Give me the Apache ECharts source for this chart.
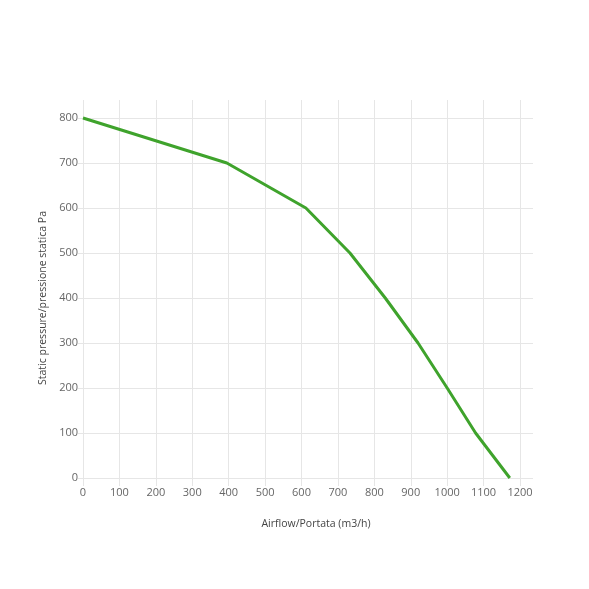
<!DOCTYPE html>
<html>
<head>
<meta charset="utf-8">
<script src="https://cdn.jsdelivr.net/npm/echarts@6/dist/echarts.min.js"></script>
<style>
html,body{margin:0;padding:0;background:#fff;}
#c{width:589px;height:589px;}
</style>
</head>
<body>
<div id="c"></div>
<script>
const airflow = [0, 395, 612, 733, 830, 920, 1000, 1078, 1172];
const pressure = [800, 700, 600, 500, 400, 300, 200, 100, 0];
const xTicks = [0, 100, 200, 300, 400, 500, 600, 700, 800, 900, 1000, 1100, 1200];
const yTicks = [0, 100, 200, 300, 400, 500, 600, 700, 800];
const xTitle = 'Airflow/Portata (m3/h)';
const yTitle = 'Static pressure/pressione statica Pa';

const gridColor = '#e6e6e6';
const textColor = '#666';
const font = 'Open Sans';

const chart = echarts.init(document.getElementById('c'), null, {renderer: 'canvas'});
chart.setOption({
  animation: false,
  backgroundColor: '#fff',
  grid: [
    {left: 83, right: 69, top: 100, bottom: 111},
    {left: 83, right: 56, top: 118, bottom: 111}
  ],
  xAxis: [
    {
      type: 'value', gridIndex: 0, min: xTicks[0], max: xTicks[xTicks.length - 1], interval: 100,
      axisLine: {show: false},
      axisTick: {show: true, length: 8, lineStyle: {color: gridColor}},
      splitLine: {show: true, lineStyle: {color: gridColor, width: 1}},
      axisLabel: {color: textColor, fontFamily: font, fontSize: 11, margin: 9,
                  formatter: v => String(v)}
    },
    {
      type: 'value', gridIndex: 1, min: 0, max: 1200, show: false, splitLine: {show: false}
    }
  ],
  yAxis: [
    {
      type: 'value', gridIndex: 0, min: 0, max: 840, show: false, splitLine: {show: false}
    },
    {
      type: 'value', gridIndex: 1, min: yTicks[0], max: yTicks[yTicks.length - 1], interval: 100,
      axisLine: {show: false},
      axisTick: {show: true, length: 5, lineStyle: {color: gridColor}},
      splitLine: {show: true, lineStyle: {color: gridColor, width: 1}},
      axisLabel: {color: textColor, fontFamily: font, fontSize: 11, margin: 5,
                  formatter: v => String(v)},
      name: yTitle, nameLocation: 'middle', nameGap: 26, nameRotate: 90,
      nameTextStyle: {color: '#444', fontFamily: font, fontSize: 10.5}
    }
  ],
  graphic: [{
    type: 'text', x: 316, y: 519,
    style: {text: xTitle, fill: '#444', font: '10.5px "Open Sans"', textAlign: 'center'}
  }],
  series: [{
    type: 'line',
    xAxisIndex: 0, yAxisIndex: 0,
    data: airflow.map((x, i) => [x, pressure[i]]),
    showSymbol: false, symbol: 'none',
    lineStyle: {color: '#3fa32c', width: 3},
    smooth: false
  }]
});
</script>
</body>
</html>
